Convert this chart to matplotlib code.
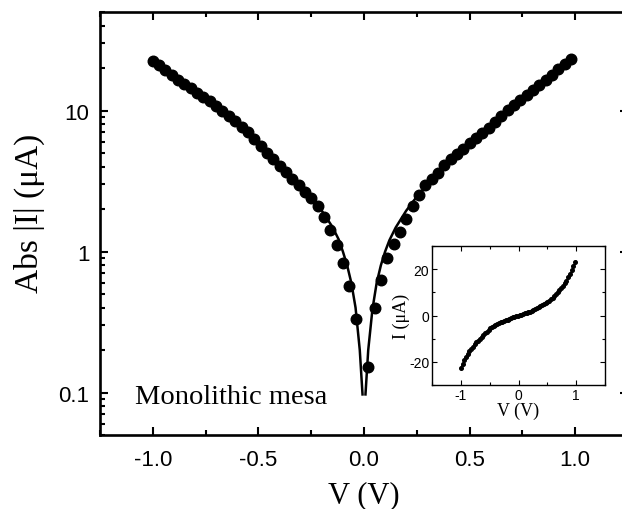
import numpy as np
import matplotlib
matplotlib.use("Agg")
import matplotlib.pyplot as plt
from matplotlib.ticker import MultipleLocator, LogLocator, FuncFormatter, NullFormatter

plt.rcParams['font.family'] = ['Liberation Sans', 'DejaVu Sans']
plt.rcParams['axes.unicode_minus'] = False

# measured points (V in volts, |I| in uA)
v_meas = [-1.00, -0.97, -0.94, -0.91, -0.88, -0.85, -0.82, -0.79, -0.76, -0.73,
          -0.70, -0.67, -0.64, -0.61, -0.58, -0.55, -0.52, -0.49, -0.46, -0.43,
          -0.40, -0.37, -0.34, -0.31, -0.28, -0.25, -0.22, -0.19, -0.16, -0.13,
          -0.10, -0.07, -0.04, -0.01,
          0.02, 0.05, 0.08, 0.11, 0.14, 0.17, 0.20, 0.23, 0.26, 0.29,
          0.32, 0.35, 0.38, 0.41, 0.44, 0.47, 0.50, 0.53, 0.56, 0.59,
          0.62, 0.65, 0.68, 0.71, 0.74, 0.77, 0.80, 0.83, 0.86, 0.89,
          0.92, 0.95, 0.98]
i_meas = [22.5, 21.0, 19.4, 17.9, 16.6, 15.4, 14.4, 13.4, 12.5, 11.6,
          10.8, 9.95, 9.2, 8.4, 7.7, 7.0, 6.25, 5.6, 5.0, 4.5,
          4.05, 3.65, 3.28, 2.95, 2.65, 2.38, 2.1, 1.77, 1.42, 1.12,
          0.83, 0.57, 0.33, 0.04,
          0.153, 0.40, 0.63, 0.90, 1.13, 1.38, 1.70, 2.10, 2.50, 2.95,
          3.27, 3.62, 4.08, 4.50, 4.90, 5.36, 5.85, 6.40, 6.98, 7.56,
          8.30, 9.20, 10.1, 10.95, 11.85, 12.8, 13.9, 15.1, 16.5, 18.0,
          19.7, 21.4, 23.1]

# fitted curve, negative and positive branches
fit_v_neg = [-1.0, -0.9, -0.8, -0.7, -0.6, -0.5, -0.4, -0.3, -0.25, -0.2,
             -0.15, -0.12, -0.1, -0.08, -0.06, -0.04, -0.02, -0.007]
fit_i_neg = [22.6, 17.6, 13.7, 10.7, 8.1, 5.9, 4.1, 2.85, 2.4, 1.95,
             1.5, 1.22, 1.0, 0.8, 0.6, 0.4, 0.2, 0.097]
fit_v_pos = [0.007, 0.02, 0.04, 0.06, 0.08, 0.1, 0.12, 0.15, 0.2, 0.25,
             0.3, 0.4, 0.5, 0.6, 0.7, 0.8, 0.9, 1.0]
fit_i_pos = [0.097, 0.2, 0.39, 0.6, 0.8, 1.0, 1.2, 1.48, 1.95, 2.45,
             3.0, 4.25, 5.9, 7.9, 10.5, 13.7, 17.8, 23.4]

serif = 'Liberation Serif'

fig = plt.figure(figsize=(6.22, 5.10), dpi=100)
ax = fig.add_axes([100/622, 74/510, 528/622, 423/510])

ax.plot(v_meas, i_meas, 'o', color='k', ms=7.6, mec='k')
ax.plot(fit_v_neg, fit_i_neg, '-', color='k', lw=1.8)
ax.plot(fit_v_pos, fit_i_pos, '-', color='k', lw=1.8)

ax.set_yscale('log')
ax.set_xlim(-1.25, 1.25)
ax.set_ylim(0.05, 50)
ax.xaxis.set_major_locator(MultipleLocator(0.5))
ax.xaxis.set_minor_locator(MultipleLocator(0.25))
ax.xaxis.set_major_formatter(FuncFormatter(lambda x, p: '%.1f' % x))
ax.yaxis.set_major_locator(LogLocator(base=10, numticks=10))
ax.yaxis.set_minor_locator(LogLocator(base=10, subs=np.arange(2, 10), numticks=20))
ax.yaxis.set_major_formatter(FuncFormatter(lambda y, p: '%g' % y))
ax.yaxis.set_minor_formatter(NullFormatter())

for s in ax.spines.values():
    s.set_linewidth(1.9)
ax.tick_params(which='both', direction='in', top=True, right=True, width=1.5,
               labelsize=16)
ax.tick_params(which='major', length=6)
ax.tick_params(which='minor', length=3.5)
ax.tick_params(axis='x', pad=10)
ax.tick_params(axis='y', pad=7.5)

ax.set_xlabel('V (V)', fontfamily=serif, fontsize=22)
ax.set_ylabel('Abs |I| (\u03bcA)', fontfamily=serif, fontsize=24)
ax.xaxis.set_label_coords(0.5, -0.108)
ax.yaxis.set_label_coords(-0.104, 0.527)

ax.text(0.066, 0.075, 'Monolithic mesa', transform=ax.transAxes,
        fontfamily=serif, fontsize=20.5, va='baseline', ha='left')

# inset: linear I-V
ins = fig.add_axes([432/622, 124/510, 173/622, 139/510])
v_sign = np.sign(v_meas)
ins.plot(v_meas, v_sign * np.array(i_meas), 'o', color='k', ms=2.6)
ins.plot(fit_v_neg + [0.0] + fit_v_pos,
         [-x for x in fit_i_neg] + [0.0] + fit_i_pos, '-', color='k', lw=1.0)
ins.set_xlim(-1.5, 1.5)
ins.set_ylim(-30, 30)
ins.xaxis.set_major_locator(MultipleLocator(1))
ins.xaxis.set_minor_locator(MultipleLocator(0.5))
ins.yaxis.set_major_locator(MultipleLocator(20))
ins.yaxis.set_minor_locator(MultipleLocator(10))
for s in ins.spines.values():
    s.set_linewidth(1.0)
ins.tick_params(which='both', direction='in', top=True, right=True, width=0.8,
                labelsize=10, pad=2)
ins.tick_params(which='major', length=3.5)
ins.tick_params(which='minor', length=2)
ins.set_xlabel('V (V)', fontfamily=serif, fontsize=13, labelpad=0)
ins.set_ylabel('I (\u03bcA)', fontfamily=serif, fontsize=13, labelpad=-1)

fig.savefig('out.png', dpi=100)
